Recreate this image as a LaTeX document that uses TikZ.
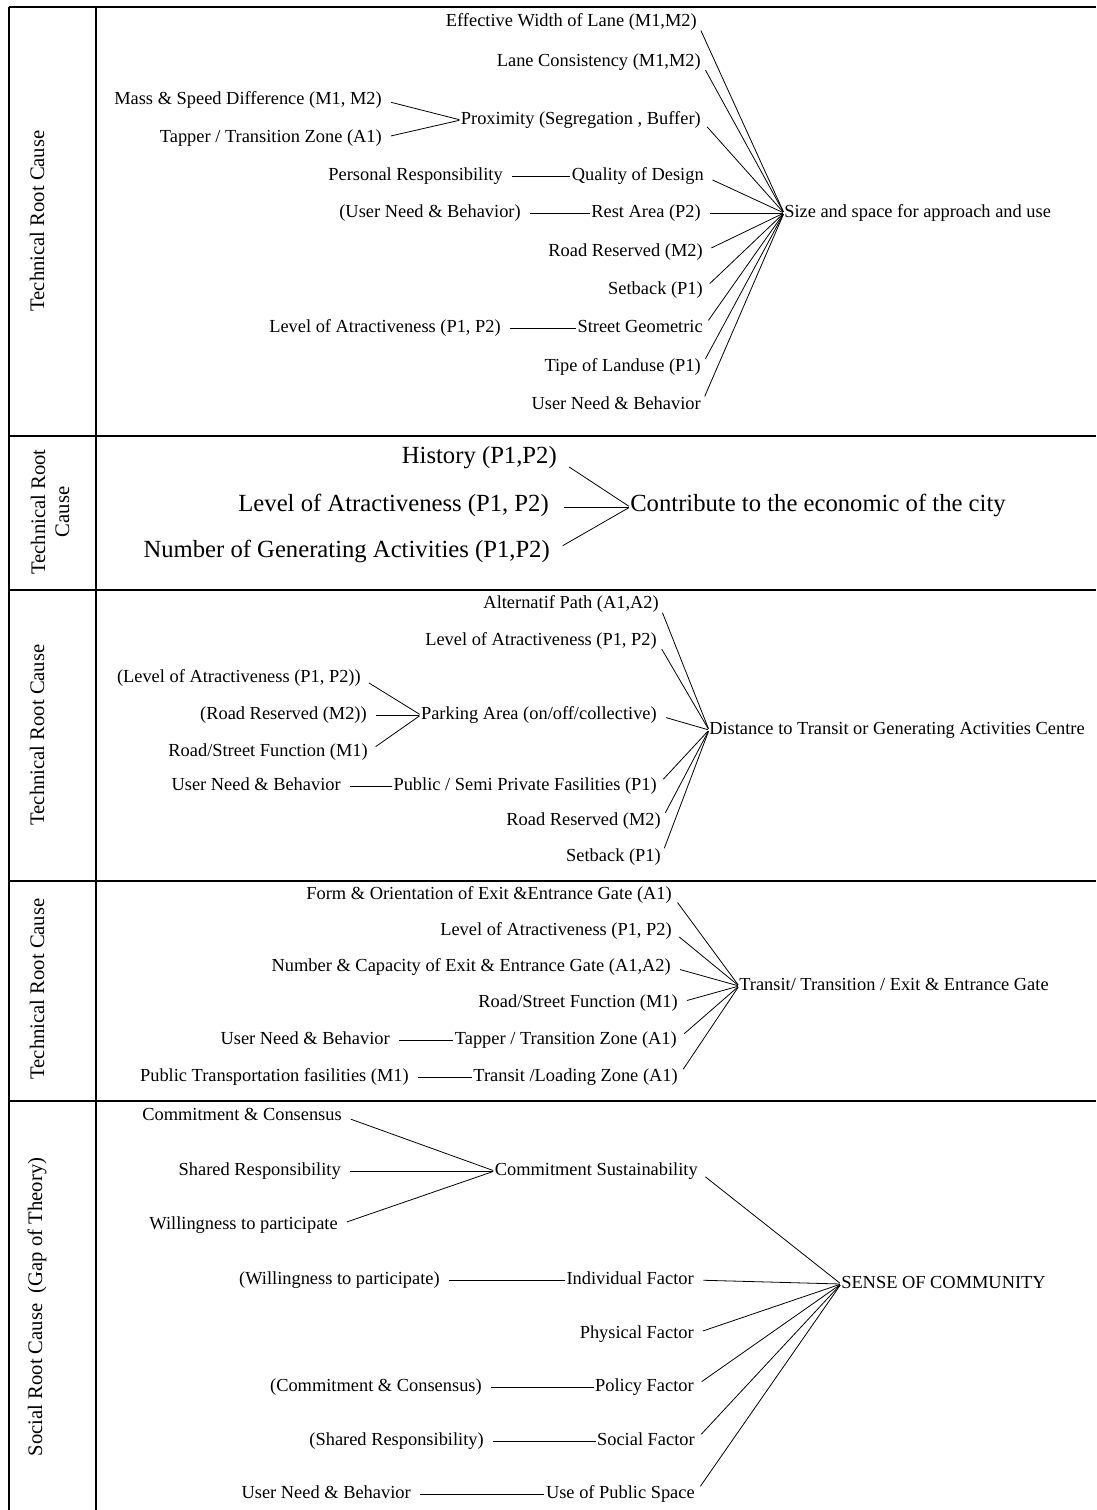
\documentclass[tikz,border=0pt]{standalone}
\usepackage{fontspec}
\setmainfont{Liberation Serif}

\begin{document}
\begin{tikzpicture}[x=0.75pt,y=-0.75pt,
  txt/.style={inner sep=0pt,text height=0.66em,text depth=0pt,font=\fontsize{13.8}{16}\selectfont},
  big/.style={inner sep=0pt,text height=0.66em,text depth=0pt,font=\fontsize{18.5}{22}\selectfont},
  cause/.style={rotate=90,align=center,inner sep=0pt,font=\fontsize{15.5}{18}\selectfont},
  link/.style={line width=0.6pt,shorten <=7pt,shorten >=1pt},
  wide link/.style={link,shorten <=11pt},
  grid/.style={line width=1.5pt}]
\useasboundingbox (0,0) rectangle (1096,1510);

\draw[grid] (9,7) -- (1096,7);
\draw[grid] (9,7) -- (9,1510);
\draw[grid] (96,7) -- (96,1510);
\draw[grid] (9,436) -- (1096,436);
\draw[grid] (9,590) -- (1096,590);
\draw[grid] (9,881) -- (1096,881);
\draw[grid] (9,1101) -- (1096,1101);

\node[cause] (c1) at (37,221) {Technical Root Cause};
\node[cause] (c2) at (50,512) {Technical Root\\Cause};
\node[cause] (c3) at (37,735) {Technical Root Cause};
\node[cause] (c4) at (37,989) {Technical Root Cause};
\node[cause] (c5) at (37,1307) {Social Root Cause~~(Gap of Theory)};

\node[txt,anchor=east] (width) at (697,22) {Effective Width of Lane (M1,M2)};
\node[txt,anchor=east] (consistency) at (701,62) {Lane Consistency (M1,M2)};
\node[txt,anchor=east] (mass) at (382,100) {Mass \& Speed Difference (M1, M2)};
\node[txt,anchor=east] (proximity) at (701,120) {Proximity (Segregation , Buffer)};
\node[txt,anchor=east] (taper) at (382,138) {Tapper / Transition Zone (A1)};
\node[txt,anchor=east] (quality) at (704,176) {Quality of Design};
\node[txt,anchor=east] (personal) at (503,176) {Personal Responsibility};
\node[txt,anchor=east] (rest) at (701,213) {Rest Area (P2)};
\node[txt,anchor=east] (userA) at (521,213) {(User Need \& Behavior)};
\node[txt,anchor=east] (reserved) at (703,252) {Road Reserved (M2)};
\node[txt,anchor=east] (setback) at (703,290) {Setback (P1)};
\node[txt,anchor=east] (geometric) at (703,328) {Street Geometric};
\node[txt,anchor=east] (levelA) at (501,328) {Level of Atractiveness (P1, P2)};
\node[txt,anchor=east] (landuse) at (701,367) {Tipe of Landuse (P1)};
\node[txt,anchor=east] (userB) at (701,405) {User Need \& Behavior};
\node[txt,anchor=west] (size) at (784,213) {Size and space for approach and use};

\path [link] (mass.east) edge (proximity.west);
\path [link] (taper.east) edge (proximity.west);
\path [link] (personal.east) edge (quality.west);
\path [link] (userA.east) edge (rest.west);
\path [link] (levelA.east) edge (geometric.west);
\path [link] (width.east) edge (size.west);
\path [link] (consistency.east) edge (size.west);
\path [link] (proximity.east) edge (size.west);
\path [link] (quality.east) edge (size.west);
\path [link] (rest.east) edge (size.west);
\path [link] (reserved.east) edge (size.west);
\path [link] (setback.east) edge (size.west);
\path [link] (geometric.east) edge (size.west);
\path [link] (landuse.east) edge (size.west);
\path [link] (userB.east) edge (size.west);

\node[big,anchor=east] (history) at (557,459) {History (P1,P2)};
\node[big,anchor=east] (levelB) at (549,507) {Level of Atractiveness (P1, P2)};
\node[big,anchor=east] (generating) at (550,553) {Number of Generating Activities (P1,P2)};
\node[big,anchor=west] (economic) at (630,507) {Contribute to the economic of the city};

\path [wide link] (history.east) edge (economic.west);
\path [wide link] (levelB.east) edge (economic.west);
\path [wide link] (generating.east) edge (economic.west);

\node[txt,anchor=east] (alternative) at (659,604) {Alternatif Path (A1,A2)};
\node[txt,anchor=east] (levelC) at (657,641) {Level of Atractiveness (P1, P2)};
\node[txt,anchor=east] (levelD) at (361,678) {(Level of Atractiveness (P1, P2))};
\node[txt,anchor=east] (parking) at (657,715) {Parking Area (on/off/collective)};
\node[txt,anchor=east] (reservedB) at (367,715) {(Road Reserved (M2))};
\node[txt,anchor=east] (function) at (368,752) {Road/Street Function (M1)};
\node[txt,anchor=east] (facilities) at (657,786) {Public / Semi Private Fasilities (P1)};
\node[txt,anchor=east] (userC) at (341,786) {User Need \& Behavior};
\node[txt,anchor=east] (reservedC) at (661,821) {Road Reserved (M2)};
\node[txt,anchor=east] (setbackB) at (661,857) {Setback (P1)};
\node[txt,anchor=west] (distance) at (709,730) {Distance to Transit or Generating Activities Centre};

\path [link] (levelD.east) edge (parking.west);
\path [link] (reservedB.east) edge (parking.west);
\path [link] (function.east) edge (parking.west);
\path [link] (userC.east) edge (facilities.west);
\path [link] (alternative.east) edge (distance.west);
\path [link] (levelC.east) edge (distance.west);
\path [link] (parking.east) edge (distance.west);
\path [link] (facilities.east) edge (distance.west);
\path [link] (reservedC.east) edge (distance.west);
\path [link] (setbackB.east) edge (distance.west);

\node[txt,anchor=east] (form) at (672,895) {Form \& Orientation of Exit \&Entrance Gate (A1)};
\node[txt,anchor=east] (levelE) at (672,931) {Level of Atractiveness (P1, P2)};
\node[txt,anchor=east] (capacity) at (671,967) {Number \& Capacity of Exit \& Entrance Gate (A1,A2)};
\node[txt,anchor=east] (functionB) at (678,1003) {Road/Street Function (M1)};
\node[txt,anchor=east] (taperB) at (677,1040) {Tapper / Transition Zone (A1)};
\node[txt,anchor=east] (userD) at (390,1040) {User Need \& Behavior};
\node[txt,anchor=east] (loading) at (678,1077) {Transit /Loading Zone (A1)};
\node[txt,anchor=east] (public) at (409,1077) {Public Transportation fasilities (M1)};
\node[txt,anchor=west] (gate) at (739,986) {Transit/ Transition / Exit \& Entrance Gate};

\path [link] (userD.east) edge (taperB.west);
\path [link] (public.east) edge (loading.west);
\path [link] (form.east) edge (gate.west);
\path [link] (levelE.east) edge (gate.west);
\path [link] (capacity.east) edge (gate.west);
\path [link] (functionB.east) edge (gate.west);
\path [link] (taperB.east) edge (gate.west);
\path [link] (loading.east) edge (gate.west);

\node[txt,anchor=east] (consensus) at (342,1116) {Commitment \& Consensus};
\node[txt,anchor=east] (shared) at (341,1171) {Shared Responsibility};
\node[txt,anchor=east] (sustain) at (698,1171) {Commitment Sustainability};
\node[txt,anchor=east] (willing) at (338,1225) {Willingness to participate};
\node[txt,anchor=east] (individual) at (694,1280) {Individual Factor};
\node[txt,anchor=east] (willingB) at (440,1280) {(Willingness to participate)};
\node[txt,anchor=east] (physical) at (694,1334) {Physical Factor};
\node[txt,anchor=east] (policy) at (694,1387) {Policy Factor};
\node[txt,anchor=east] (consensusB) at (482,1387) {(Commitment \& Consensus)};
\node[txt,anchor=east] (social) at (695,1441) {Social Factor};
\node[txt,anchor=east] (sharedB) at (484,1441) {(Shared Responsibility)};
\node[txt,anchor=east] (space) at (695,1494) {Use of Public Space};
\node[txt,anchor=east] (userE) at (411,1494) {User Need \& Behavior};
\node[txt,anchor=west] (community) at (841,1284) {SENSE OF COMMUNITY};

\path [link] (consensus.east) edge (sustain.west);
\path [link] (shared.east) edge (sustain.west);
\path [link] (willing.east) edge (sustain.west);
\path [link] (willingB.east) edge (individual.west);
\path [link] (consensusB.east) edge (policy.west);
\path [link] (sharedB.east) edge (social.west);
\path [link] (userE.east) edge (space.west);
\path [link] (sustain.east) edge (community.west);
\path [link] (individual.east) edge (community.west);
\path [link] (physical.east) edge (community.west);
\path [link] (policy.east) edge (community.west);
\path [link] (social.east) edge (community.west);
\path [link] (space.east) edge (community.west);
\end{tikzpicture}
\end{document}
